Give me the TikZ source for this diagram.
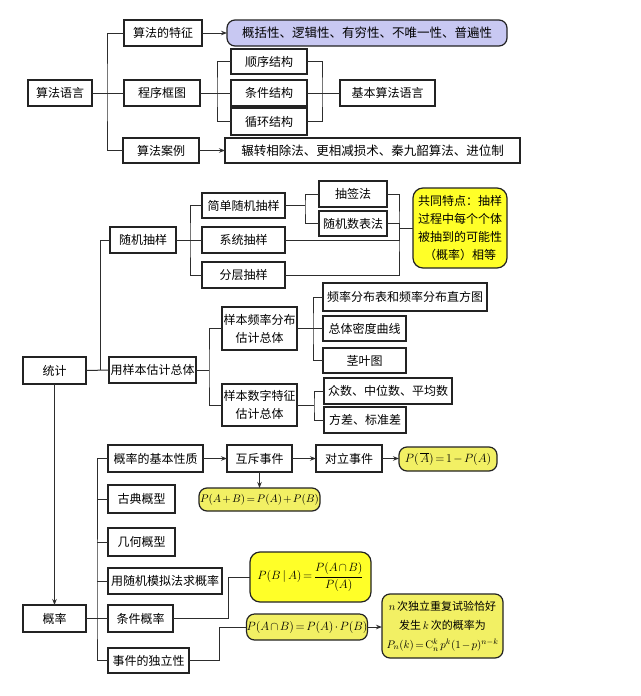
\documentclass[tikz,border=0pt]{standalone}
\usepackage{fontspec}
\newfontfamily\cjk{Noto Sans CJK SC}
\usetikzlibrary{arrows.meta,calc}
\definecolor{lav}{RGB}{200,200,242}
\definecolor{yel}{RGB}{242,240,100}
\definecolor{yelB}{RGB}{255,255,40}
\definecolor{edge}{RGB}{35,35,35}
\definecolor{ln}{RGB}{45,45,45}
\newcommand\tightmath{\thickmuskip=2.5mu\relax\medmuskip=2mu\relax}
\newcommand\boxat[7]{\node[#1, minimum width={#5-#3}, minimum height={#6-#4}] (#2) at ({(#3+#5)/2},{(#4+#6)/2}) {#7};}
\begin{document}
\begin{tikzpicture}[x=1pt,y=-1pt,
  every node/.style={font=\cjk\fontsize{12}{18}\selectfont, inner sep=0pt, outer sep=0pt},
  box/.style={draw=edge, line width=1.1pt, fill=white, rectangle},
  pbox/.style={draw=edge, line width=1.2pt, fill=lav, rounded corners=8pt},
  ybox/.style={draw=edge, line width=1.2pt, fill=yel, rounded corners=8pt, align=center,
    font=\cjk\fontsize{12}{18}\selectfont\tightmath},
  ybright/.style={ybox, fill=yelB, rounded corners=10pt},
  link/.style={draw=ln, line width=1pt},
  arr/.style={link, -{Stealth[length=6pt,width=4.5pt]}}]
\fill[white] (0,0) rectangle (640,696);
\useasboundingbox (0,0) rectangle (640,696);
% ---------- algorithm ----------
\boxat{box}{alg}{28}{80}{92}{106}{算法语言}
\boxat{box}{feat}{124}{20}{202}{46}{算法的特征}
\boxat{pbox}{featR}{227}{20}{507}{46}{\fontsize{12.5}{15}\selectfont 概括性、逻辑性、有穷性、不唯一性、普遍性}
\boxat{box}{flow}{124}{80}{200}{106}{程序框图}
\boxat{box}{seq}{231}{49}{307}{74}{顺序结构}
\boxat{box}{cond}{231}{80}{307}{106}{条件结构}
\boxat{box}{loop}{231}{108}{307}{135}{循环结构}
\boxat{box}{basic}{340}{80}{435}{106}{基本算法语言}
\boxat{box}{case}{123}{138}{199}{163}{算法案例}
\boxat{box}{caseR}{225}{138}{520}{163}{\fontsize{12.5}{15}\selectfont 辗转相除法、更相减损术、秦九韶算法、进位制}
% ---------- statistics ----------
\boxat{box}{stat}{23}{357}{86}{384}{统计}
\boxat{box}{rand}{110}{227}{176}{253}{随机抽样}
\boxat{box}{simple}{202}{193}{285}{218}{简单随机抽样}
\boxat{box}{lot}{319}{181}{387}{207}{抽签法}
\boxat{box}{rnum}{319}{211}{387}{236}{随机数表法}
\boxat{box}{sys}{202}{227}{285}{253}{系统抽样}
\boxat{box}{strat}{202}{262}{285}{288}{分层抽样}
\boxat{ybright}{common}{413}{188}{507}{268}{共同特点：抽样\\过程中每个个体\\被抽到的可能性\\（概率）相等}
\boxat{box}{est}{109}{357}{196}{383}{用样本估计总体}
\boxat{box,align=center}{freq}{222}{307}{297}{350}{样本频率分布\\估计总体}
\boxat{box,align=center}{num}{222}{384}{297}{426}{样本数字特征\\估计总体}
\boxat{box}{fa}{323}{283}{487}{311}{频率分布表和频率分布直方图}
\boxat{box}{fb}{323}{316}{406}{341}{总体密度曲线}
\boxat{box}{fc}{323}{348}{406}{373}{茎叶图}
\boxat{box}{na}{324}{378}{452}{404}{众数、中位数、平均数}
\boxat{box}{nb}{324}{407}{406}{433}{方差、标准差}
% ---------- probability ----------
\boxat{box}{prob}{23}{605}{86}{632}{概率}
\boxat{box}{basicp}{108}{445}{203}{472}{概率的基本性质}
\boxat{box}{mutex}{227}{445}{292}{472}{互斥事件}
\boxat{box}{opp}{316}{445}{382}{472}{对立事件}
\boxat{ybox}{oppF}{399}{447}{497}{471}{$P(\;\overline{A})=1-P(A)$}
\boxat{ybox,font=\cjk\fontsize{10.5}{16}\selectfont\tightmath}{addF}{199}{488}{320}{511}{$P(A+B)=P(A)+P(B)$}
\boxat{box}{classic}{108}{485}{175}{513}{古典概型}
\boxat{box}{geom}{108}{528}{175}{556}{几何概型}
\boxat{box}{sim}{108}{568}{222}{594}{用随机模拟法求概率}
\boxat{box}{condp}{108}{605}{173}{632}{条件概率}
\boxat{box}{indep}{108}{648}{189}{673}{事件的独立性}
\boxat{ybright}{condF}{250}{552}{371}{602}{$P(B\,|\,A)=\displaystyle\frac{P(A\cap B)}{P(A)}$}
\boxat{ybox}{indF}{250}{614}{364}{640}{$P(A\cap B)=P(A)\cdot P(B)$}
\boxat{ybox,font=\cjk\fontsize{11}{19}\selectfont\tightmath}{bern}{382}{594}{503}{658}{$n$\,次独立重复试验恰好\\发生\,$k$\,次的概率为\\$P_n(k)=\mathrm{C}_n^k\;p^k(1-p)^{n-k}$}
% ---------- connectors: algorithm ----------
\coordinate (busA) at (107,93);
\draw[link] (alg.east) -- (flow.west);
\draw[link] (feat.west) -| (busA) |- (case.west);
\draw[arr] (feat.east) -- (featR.west);
\draw[arr] (case.east) -- (caseR.west);
\coordinate (tF) at (217,93);
\draw[link] (flow.east) -- (cond.west);
\draw[link] (seq.west) -| (tF) |- (loop.west);
\coordinate (tR) at (322,93);
\draw[link] (seq.east) -| (tR) |- (loop.east);
\draw[link] (cond.east) -- (basic.west);
% ---------- connectors: statistics ----------
\coordinate (busS) at (100,370);
\draw[link] (rand.west) -| (busS);
\draw[link] (stat.east) -- (est.west);
\coordinate (tRand) at (190,240);
\draw[link] (rand.east) -- (sys.west);
\draw[link] (simple.west) -| (tRand) |- (strat.west);
\coordinate (tS) at (305,205.5);
\draw[link] (simple.east) -- (tS);
\draw[link] (lot.west) -| (tS) |- (rnum.west);
\coordinate (tC) at (399,228);
\draw[link] (lot.east) -| (tC) |- (strat.east);
\draw[link] (rnum.east) -| (tC);
\draw[link] (sys.east) -| (tC);
\draw[link] (tC) -- (common.west);
\coordinate (tE) at (209,370);
\draw[link] (est.east) -- (tE);
\draw[link] (freq.west) -| (tE) |- (num.west);
\coordinate (tFq) at (313,328.5);
\draw[link] (freq.east) -- (fb.west);
\draw[link] (fa.west) -| (tFq) |- (fc.west);
\coordinate (tN) at (314,405);
\draw[link] (num.east) -- (tN);
\draw[link] (na.west) -| (tN) |- (nb.west);
% ---------- connectors: probability ----------
\draw[arr] (stat.south) -- (prob.north);
\coordinate (busP) at (97,618.5);
\draw[link] (prob.east) -- (condp.west);
\draw[link] (basicp.west) -| (busP) |- (indep.west);
\draw[link] (classic.west) -- (classic.west -| busP);
\draw[link] (geom.west) -- (geom.west -| busP);
\draw[link] (sim.west) -- (sim.west -| busP);
\draw[arr] (basicp.east) -- (mutex.west);
\draw[arr] (mutex.east) -- (opp.west);
\draw[arr] (opp.east) -- (opp.east -| oppF.west);
\draw[arr] (mutex.south) -- (mutex.south |- addF.north);
\coordinate (jc) at (228,577);
\draw[link] (condp.east) -| (jc) -- (condF.west);
\coordinate (ji) at (219,627);
\draw[link] (indep.east) -| (ji) -- (indF.west);
\draw[arr] (indF.east) -- (indF.east -| bern.west);
\end{tikzpicture}
\end{document}
